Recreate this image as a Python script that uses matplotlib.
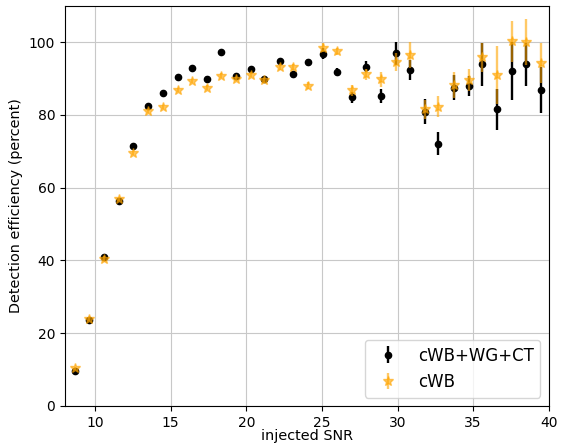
import matplotlib
matplotlib.use('Agg')
import matplotlib.pyplot as plt

# injected SNR bins
snr = [8.7, 9.6, 10.6, 11.6, 12.5, 13.5, 14.5, 15.5, 16.4, 17.4, 18.3,
       19.3, 20.3, 21.2, 22.2, 23.1, 24.1, 25.1, 26.0, 27.0, 27.9, 28.9,
       29.9, 30.8, 31.8, 32.7, 33.7, 34.7, 35.6, 36.6, 37.6, 38.5, 39.5]

# cWB+WG+CT efficiency and error
eff_ct = [9.5, 23.5, 40.8, 56.2, 71.5, 82.5, 86.0, 90.5, 93.0, 90.0, 97.3,
          90.7, 92.7, 89.8, 94.7, 91.2, 94.5, 96.8, 91.8, 84.8, 93.3, 85.2,
          96.9, 92.3, 80.9, 72.1, 87.5, 88.0, 93.9, 81.5, 92.0, 93.9, 86.9]
err_ct = [0.4, 0.5, 0.6, 0.6, 0.6, 0.6, 0.6, 0.5, 0.5, 0.6, 0.5,
          0.6, 0.6, 0.7, 0.8, 1.0, 1.0, 1.5, 1.0, 1.5, 1.5, 2.0,
          3.1, 2.7, 3.5, 3.2, 3.5, 2.8, 6.0, 5.6, 8.0, 6.0, 6.3]

# cWB efficiency and error
eff_cwb = [10.3, 23.8, 40.5, 56.8, 69.5, 81.0, 82.2, 86.8, 89.3, 87.5, 90.8,
           89.8, 91.0, 89.5, 93.2, 93.2, 88.0, 98.5, 97.5, 86.8, 91.2, 89.8,
           94.6, 96.5, 81.5, 82.3, 88.2, 89.5, 95.8, 91.0, 100.2, 100.0, 94.4]
err_cwb = [0.4, 0.5, 0.6, 0.6, 0.6, 0.6, 0.6, 0.6, 0.6, 0.6, 0.6,
           0.6, 0.7, 0.7, 0.8, 0.8, 1.0, 1.2, 1.0, 1.5, 1.5, 2.0,
           2.5, 3.5, 2.5, 3.0, 3.5, 3.0, 4.0, 8.0, 5.7, 6.4, 5.5]

fig = plt.figure(figsize=(5.64, 4.45), dpi=100)
ax = fig.add_axes([0.115, 0.088, 0.858, 0.899])

ax.errorbar(snr, eff_ct, yerr=err_ct, fmt='o', color='black', ms=4.5,
            elinewidth=1.7, label='cWB+WG+CT', zorder=3)
ax.errorbar(snr, eff_cwb, yerr=err_cwb, fmt='*', color='orange', ms=7.5,
            elinewidth=1.7, alpha=0.6, label='cWB', zorder=4)

ax.set_xlim(8, 40)
ax.set_ylim(0, 110)
ax.grid(True, color='#c8c8c8')
ax.set_axisbelow(True)
ax.tick_params(labelsize=10)
ax.set_xlabel('injected SNR', fontsize=10.4, labelpad=-0.5)
ax.set_ylabel('Detection efficiency (percent)', fontsize=10.4)
ax.legend(loc='lower right', fontsize=12)

fig.savefig('out.png', dpi=100)
